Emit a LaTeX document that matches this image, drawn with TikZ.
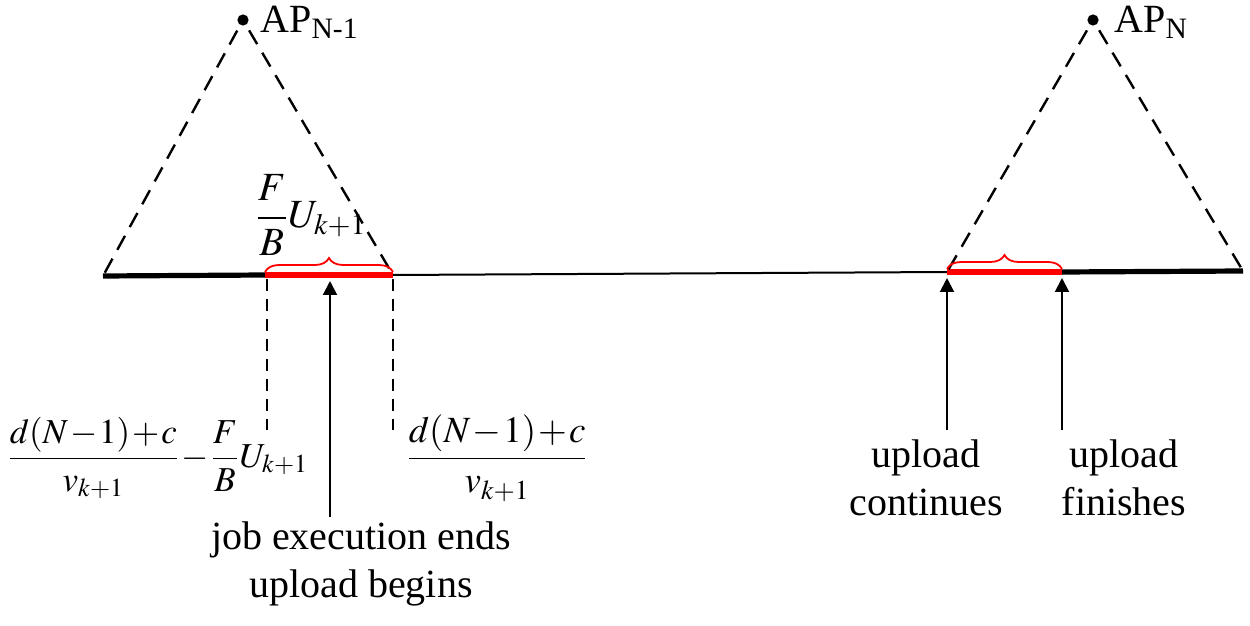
\documentclass[tikz,border=0pt]{standalone}
\usepackage{mathptmx}
\usepackage[no-math]{fontspec}
\setmainfont{Liberation Serif}
\newfontfamily\timesfont{Liberation Serif}
\usetikzlibrary{arrows.meta,positioning,calc,decorations.pathreplacing}
\definecolor{upred}{HTML}{FF0000}
\newcommand{\tightfrac}[2]{\medmuskip=#1mu\relax\displaystyle #2}

\begin{document}
\begin{tikzpicture}[x=0.5pt,y=-0.5pt,
  lbl/.style={font=\timesfont\fontsize{20}{24}\selectfont,inner sep=1pt,align=center},
  frm/.style={font=\timesfont\fontsize{17.5}{21}\selectfont,inner sep=1pt},
  cover/.style={line width=1.2pt,dash pattern=on 8pt off 5pt},
  vdash/.style={line width=0.9pt,dash pattern=on 6pt off 4pt},
  uparrow/.style={line width=1pt,-{Triangle[length=7pt,width=7pt]}},
  span/.style={upred,line width=0.9pt,decorate,decoration={brace,amplitude=7pt}}]
  \useasboundingbox (0,0) rectangle (1250,626);

  % access points
  \coordinate (apL) at (243,20);
  \coordinate (apR) at (1093,20);
  \fill (apL) circle (2.8pt);
  \fill (apR) circle (2.8pt);
  \node[lbl,anchor=west] (apLlbl) at (258,22) {AP\textsubscript{N-1}};
  \node[lbl,anchor=west] (apRlbl) at (1112,22) {AP\textsubscript{N}};

  % road / time line
  \coordinate (t0) at (103,276);
  \coordinate (t1) at (265,275);
  \coordinate (jobend) at (330,275);
  \coordinate (t2) at (393,275);
  \coordinate (t3) at (947,272);
  \coordinate (t4) at (1062,272);
  \coordinate (t5) at (1243,271);
  \draw[line width=1pt] (t2) -- (t3);
  \draw[line width=2.6pt] (t0) -- (t1);
  \draw[line width=2.6pt] (t4) -- (t5);
  \draw[upred,line width=3pt] (t1) -- (t2);
  \draw[upred,line width=3pt] (t3) -- (t4);

  % coverage of each AP
  \draw[cover,shorten <=6pt] (apL) -- (t0);
  \draw[cover,shorten <=6pt] (apL) -- (t2);
  \draw[cover,shorten <=6pt] (apR) -- (t3);
  \draw[cover,shorten <=6pt] (apR) -- (t5);

  % upload periods
  \draw[span] ($(t1)+(0,-3)$) -- ($(t2)+(0,-3)$);
  \draw[span] ($(t3)+(0,-3)$) -- ($(t4)+(0,-3)$);
  \node[frm,font=\timesfont\fontsize{20}{24}\selectfont] (fbU) at (311,215) {$\tightfrac{1}{\frac{F}{B}U_{k+1}}$};

  % time stamps
  \node[frm,anchor=west] (tstart) at (5,458)
    {$\tightfrac{1}{\frac{d(N-1)+c}{v_{k+1}}-\frac{F}{B}U_{k+1}}$};
  \node[frm,anchor=west,font=\timesfont\fontsize{18.5}{22}\selectfont] (tend) at (404,458)
    {$\tightfrac{1}{\frac{d(N-1)+c}{v_{k+1}}}$};
  \coordinate (d1) at (267,430);
  \coordinate (d2) at (393,430);
  \draw[vdash] ($(t1)+(2,4)$) -- (d1);
  \draw[vdash] ($(t2)+(0,4)$) -- (d2);

  % events
  \node[lbl] (job) at (361,564) {job execution ends\\upload begins};
  \node[lbl] (cont) at (926,478) {upload\\continues};
  \node[lbl] (fin) at (1124,478) {upload\\finishes};
  \draw[uparrow] ($(job.north -| jobend)+(0,-2)$) -- ($(jobend)+(0,6)$);
  \draw[uparrow] ($(cont.north -| t3)+(0,-8)$) -- ($(t3)+(0,6)$);
  \draw[uparrow] ($(fin.north -| t4)+(0,-8)$) -- ($(t4)+(0,6)$);
\end{tikzpicture}
\end{document}
